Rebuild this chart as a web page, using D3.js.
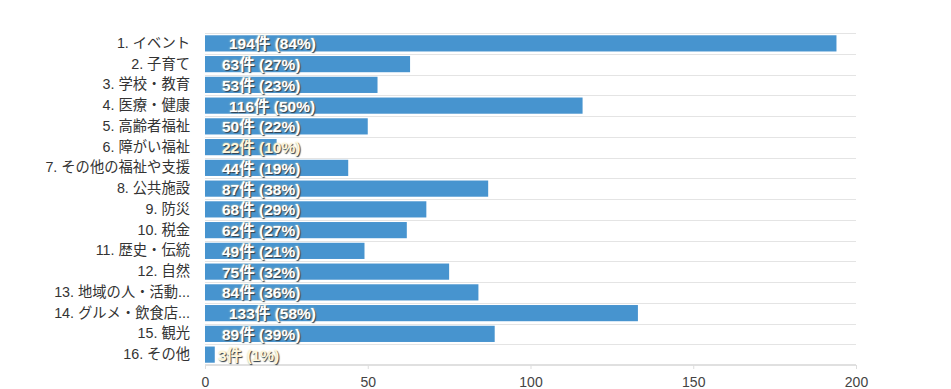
<!DOCTYPE html>
<html>
<head>
<meta charset="utf-8">
<script src="https://cdn.jsdelivr.net/npm/d3@7"></script>
<style>
  body { margin: 0; background: #fff; }
  svg { font-family: "Liberation Sans", Arial, "Noto Sans CJK JP", sans-serif; }
</style>
</head>
<body>
<div id="chart"></div>
<script>
const categories = [
  "1. イベント", "2. 子育て", "3. 学校・教育", "4. 医療・健康", "5. 高齢者福祉",
  "6. 障がい福祉", "7. その他の福祉や支援", "8. 公共施設", "9. 防災", "10. 税金",
  "11. 歴史・伝統", "12. 自然", "13. 地域の人・活動...", "14. グルメ・飲食店...",
  "15. 観光", "16. その他"
];
const counts = [194, 63, 53, 116, 50, 22, 44, 87, 68, 62, 49, 75, 84, 133, 89, 3];
const percents = [84, 27, 23, 50, 22, 10, 19, 38, 29, 27, 21, 32, 36, 58, 39, 1];
const ticks = [0, 50, 100, 150, 200];

const width = 951, height = 389;
const margin = { left: 205, right: 95, top: 33, bottom: 24 };

const svg = d3.select("#chart").append("svg")
  .attr("width", width)
  .attr("height", height);

const x = d3.scaleLinear().domain([0, 200]).range([margin.left, width - margin.right]);
const y = d3.scaleBand().domain(categories).range([margin.top, height - margin.bottom]).paddingInner(0.22).paddingOuter(0.11);
const rows = d3.scaleBand().domain(categories).range([margin.top, height - margin.bottom]);

// row separators
svg.append("g").selectAll("line")
  .data(categories)
  .enter().append("line")
  .attr("x1", x(0))
  .attr("x2", x(200))
  .attr("y1", d => Math.round(rows(d)) + 0.5)
  .attr("y2", d => Math.round(rows(d)) + 0.5)
  .attr("stroke", "#e4e4e4")
  .attr("stroke-width", 1);

svg.append("line")
  .attr("x1", x(0))
  .attr("x2", x(200))
  .attr("y1", height - margin.bottom)
  .attr("y2", height - margin.bottom)
  .attr("stroke", "#e0e0e0")
  .attr("stroke-width", 2);

// bars
svg.append("g").selectAll("rect")
  .data(counts)
  .enter().append("rect")
  .attr("x", x(0))
  .attr("y", (d, i) => y(categories[i]))
  .attr("width", d => x(d) - x(0))
  .attr("height", y.bandwidth())
  .attr("fill", "#4794cf");

// value labels
svg.append("g").selectAll("text")
  .data(counts)
  .enter().append("text")
  .attr("x", (d, i) => x(0) + (d >= 100 ? 24 : (d < 10 ? 13 : 17)))
  .attr("y", (d, i) => y(categories[i]) + y.bandwidth() / 2)
  .attr("dy", "0.38em")
  .attr("fill", (d) => d < 30 ? "#fdf6dc" : "#ffffff")
  .style("font-size", "15.5px")
  .style("font-weight", "bold")
  .style("text-shadow", "1px 1px 1px #2a3a4a, 0 0 2px #f3e3a8")
  .text((d, i) => d + "件 (" + percents[i] + "%)");

// category labels
svg.append("g").selectAll("text")
  .data(categories)
  .enter().append("text")
  .attr("x", 190)
  .attr("y", d => rows(d) + rows.bandwidth() / 2)
  .attr("dy", "0.32em")
  .attr("text-anchor", "end")
  .attr("fill", "#333")
  .style("font-size", "14.3px")
  .text(d => d);

// x axis
const axis = svg.append("g")
  .attr("transform", "translate(0," + (height - margin.bottom) + ")")
  .call(d3.axisBottom(x).tickValues(ticks).tickSize(4).tickPadding(8));
axis.select(".domain").remove();
axis.selectAll(".tick line").attr("stroke", "#ddd");
axis.selectAll(".tick text")
  .attr("fill", "#444")
  .style("font-size", "14px")
  .style("font-family", "'Liberation Sans', Arial, sans-serif");
</script>
</body>
</html>
